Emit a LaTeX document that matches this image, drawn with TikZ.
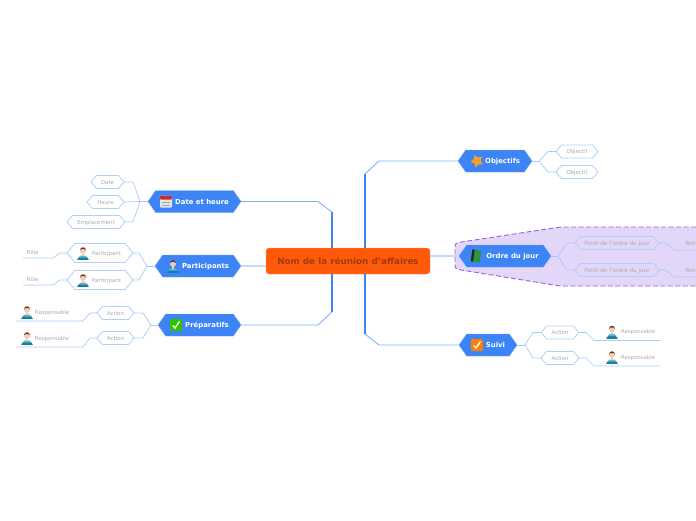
\documentclass[tikz,border=0pt]{standalone}
\usepackage{xcolor}
\usepackage{fontspec}
\setmainfont{DejaVu Sans}
\usepackage{tikz}
\usetikzlibrary{shapes.symbols, positioning, calc}

\definecolor{topicblue}{HTML}{3D85F7}
\definecolor{twigblue}{HTML}{A9C9FC}
\definecolor{hexedge}{HTML}{B2CEFD}
\definecolor{leafgrey}{HTML}{ABABAB}
\definecolor{rootorange}{HTML}{FF5A0A}
\definecolor{roottext}{HTML}{A63A0C}
\definecolor{hullfill}{HTML}{E3D7F9}
\definecolor{hulledge}{HTML}{9B5DE5}

\tikzset{
    person/.pic={
        \fill[HTML=1C7F9E] (-6,7) .. controls (-6,2) and (6,2) .. (6,7) -- cycle;
        \fill[HTML=55B6D6] (-4.5,4.5) .. controls (-3,1.5) and (3,1.5) .. (4.5,4.5) -- cycle;
        \fill[HTML=F3CDB0] (0,-2.2) circle (3);
        \fill[HTML=F3CDB0] (-1.3,0) rectangle (1.3,2.6);
        \fill[HTML=7A2A20] (-3,-2.6) .. controls (-3.2,-6.8) and (3.2,-6.8) .. (3,-2.6) -- (2,-3.8) -- (-2,-3.8) -- cycle;
    },
    calendar/.pic={
        \fill[HTML=E6E6E6, rounded corners=1pt] (-6,-6) rectangle (6,6);
        \fill[HTML=BD3030, rounded corners=1pt] (-6,-6) rectangle (6,-2);
        \draw[white!65!black, line width=.4pt] (-4,0.5) -- (4,0.5) (-4,3.2) -- (4,3.2);
    },
    starmark/.pic={
        \fill[HTML=F5A02A, rotate=-12, rounded corners=.6pt] (90:6.8) -- (126:3.6) -- (162:6.8) -- (198:3.6) -- (234:6.8) -- (270:3.6) -- (306:6.8) -- (342:3.6) -- (18:6.8) -- (54:3.6) -- cycle;
    },
    bookmark/.pic={
        \fill[HTML=2F9440, rotate=-8] (-4.5,-6) rectangle (4.5,6);
        \fill[black!85, rotate=-8] (-4.5,-6) rectangle (-2.2,6);
    },
    checkbox/.pic={
        \fill[#1, rounded corners=1.5pt] (-6,-6) rectangle (6,6);
        \draw[white, line width=1.4pt] (-3.2,0.5) -- (-1,3) -- (3.5,-3.5);
    },
    HTML/.code={\definecolor{iconfill}{HTML}{#1}\tikzset{fill=iconfill}}
}

\begin{document}
\begin{tikzpicture}[
    x=1pt, y=-1pt,
    node distance=24pt,
    rootbox/.style={rectangle, draw=rootorange!60!white, fill=rootorange, rounded corners=3pt, minimum width=164pt, minimum height=26pt, inner sep=0pt, outer sep=0pt, text=roottext, font=\fontsize{8.8}{10}\selectfont\bfseries},
    topic/.style={signal, signal to=east and west, signal pointer angle=110, draw=topicblue!75!white, fill=topicblue, minimum height=22pt, inner sep=0pt, outer sep=0pt, text=white, text height=6.4pt, text depth=1.2pt, font=\fontsize{6.9}{8}\selectfont\bfseries, execute at begin node=\hspace*{15pt}},
    hexleaf/.style={signal, signal to=east and west, signal pointer angle=100, draw=hexedge, thick, fill=white, minimum height=13pt, inner sep=0pt, outer sep=0pt, text=leafgrey, text height=5.2pt, text depth=1pt, font=\fontsize{5.4}{6}\selectfont},
    hexclear/.style={hexleaf, fill=hullfill, font=\fontsize{5.7}{7}\selectfont},
    hexwho/.style={hexleaf, minimum height=19pt, execute at begin node=\hspace*{13pt}},
    lineleaf/.style={rectangle, inner sep=0pt, outer sep=0pt, minimum height=16pt, align=left, text=leafgrey, font=\fontsize{5.4}{6}\selectfont},
    trunk/.style={draw=topicblue, line width=1.8pt},
    branch/.style={draw=topicblue!65!white, line width=.9pt},
    stem/.style={draw=twigblue!70!white, line width=1.4pt},
    twig/.style={draw=twigblue, line width=.7pt}
]
    \useasboundingbox (0,0) rectangle (696,520);

    % Boundary round the agenda
    \draw[hulledge, fill=hullfill, dash pattern=on 5pt off 2.5pt, line width=.9pt, rounded corners=3pt] (696,227) -- (560,227) -- (455,243) -- (455,269) -- (560,286) -- (696,286);

    % Central topic
    \node (root) [rootbox] at (348,261) {Nom de la réunion d'affaires};

    % Left topics
    \node (date) [topic, minimum width=93pt, left=25pt of root, yshift=59.5pt] {Date et heure};
    \node (part) [topic, minimum width=86pt, left=25pt of root, yshift=-5pt] {Participants};
    \node (prep) [topic, minimum width=83pt, left=25pt of root, yshift=-64pt] {Préparatifs};

    % Right topics
    \node (obj) [topic, minimum width=74pt, right=28pt of root, yshift=100pt] {Objectifs};
    \node (agenda) [topic, minimum width=92pt, right=29pt of root, yshift=5pt] {Ordre du jour};
    \node (follow) [topic, minimum width=58pt, right=29pt of root, yshift=-84pt] {Suivi};

    % Date et heure
    \node (day) [hexleaf, minimum width=33pt, left=of date, yshift=19.5pt] {Date};
    \node (hour) [hexleaf, minimum width=37pt, left=of date, yshift=-0.5pt] {Heure};
    \node (place) [hexleaf, minimum width=58pt, left=23pt of date, yshift=-20.5pt] {Emplacement};

    % Participants
    \node (who1) [hexwho, minimum width=66pt, left=22pt of part, yshift=13pt] {Participant};
    \node (who2) [hexwho, minimum width=66pt, left=22pt of part, yshift=-14pt] {Participant};
    \node (role1) [lineleaf, text width=30pt, minimum height=12pt, left=14pt of who1, yshift=1pt] {\hspace*{4pt}Rôle};
    \node (role2) [lineleaf, text width=30pt, minimum height=12pt, left=14pt of who2, yshift=1pt] {\hspace*{4pt}Rôle};

    % Préparatifs
    \node (todo1) [hexleaf, minimum width=37pt, left=of prep, yshift=12pt] {Action};
    \node (todo2) [hexleaf, minimum width=37pt, left=of prep, yshift=-13pt] {Action};
    \node (owner1) [lineleaf, text width=67pt, left=14pt of todo1] {\hspace*{19pt}\raisebox{-1pt}{Responsable}};
    \node (owner2) [lineleaf, text width=67pt, left=14pt of todo2, yshift=-1pt] {\hspace*{19pt}\raisebox{-1pt}{Responsable}};

    % Objectifs
    \node (goal1) [hexleaf, minimum width=42pt, right=of obj, yshift=9.5pt] {Objectif};
    \node (goal2) [hexleaf, minimum width=42pt, right=of obj, yshift=-11pt] {Objectif};

    % Ordre du jour
    \node (item1) [hexclear, minimum width=84pt, right=of agenda, yshift=13pt] {Point de l'ordre du jour};
    \node (item2) [hexclear, minimum width=84pt, right=of agenda, yshift=-14pt] {Point de l'ordre du jour};
    \node (time1) [lineleaf, text width=22pt, minimum height=12pt, right=15pt of item1, yshift=-1pt] {\hspace*{11pt}Tem};
    \node (time2) [lineleaf, text width=22pt, minimum height=12pt, right=15pt of item2, yshift=-1pt] {\hspace*{11pt}Tem};

    % Suivi
    \node (next1) [hexleaf, minimum width=38pt, right=of follow, yshift=12.5pt] {Action};
    \node (next2) [hexleaf, minimum width=38pt, right=of follow, yshift=-13pt] {Action};
    \node (owner3) [lineleaf, text width=66pt, right=15pt of next1] {\hspace*{27pt}\raisebox{-1pt}{Responsable}};
    \node (owner4) [lineleaf, text width=66pt, right=15pt of next2] {\hspace*{27pt}\raisebox{-1pt}{Responsable}};

    % Icons
    \pic at ($(date.west)+(18,0)$) {calendar};
    \pic at ($(part.west)+(18,0)$) {person};
    \pic at ($(prep.west)+(18,0)$) {checkbox={green!70!black!80!yellow}};
    \pic at ($(obj.west)+(19,0)$) {starmark};
    \pic at ($(agenda.west)+(17,0)$) {bookmark};
    \pic at ($(follow.west)+(18,0)$) {checkbox={orange}};
    \pic at ($(who1.west)+(16,0)$) {person};
    \pic at ($(who2.west)+(16,0)$) {person};
    \pic at ($(owner1.west)+(11,-1)$) {person};
    \pic at ($(owner2.west)+(11,-1)$) {person};
    \pic at ($(owner3.west)+(18,-1)$) {person};
    \pic at ($(owner4.west)+(18,-1)$) {person};

    % Main branches
    \draw[trunk] ($(root.north)+(-16,0)$) -- ++(0,-36) coordinate (ltop);
    \draw[trunk] ($(root.south)+(-16,0)$) -- ++(0,38) coordinate (lbot);
    \draw[trunk] ($(root.north)+(17,0)$) -- ++(0,-74) coordinate (rtop);
    \draw[trunk] ($(root.south)+(17,0)$) -- ++(0,60) coordinate (rbot);
    \draw[branch] (ltop) -- ($(date.east)+(77,0)$) -- (date.east);
    \draw[branch] (lbot) -- ($(prep.east)+(77,0)$) -- (prep.east);
    \draw[branch] (rtop) -- ($(obj.west)+(-79,0)$) -- (obj.west);
    \draw[branch] (rbot) -- ($(follow.west)+(-80,0)$) -- (follow.west);
    \draw[stem] (root.west |- part.east) -- (part.east);
    \draw[stem] (root.east |- agenda.west) -- (agenda.west);

    % Twigs
    \draw[twig] (date.west) -- ++(-8,0) coordinate (datehub);
    \draw[twig] (day.east) -- ++(9,0) -- (datehub);
    \draw[twig] (hour.east) -- (datehub);
    \draw[twig] (place.east) -- ++(8,0) -- (datehub);

    \draw[twig] (part.west) -- ++(-8,0) coordinate (parthub);
    \draw[twig] (who1.east) -- ++(6,0) -- (parthub);
    \draw[twig] (who2.east) -- ++(6,0) -- (parthub);
    \draw[twig] (who1.west) -- ++(-7,0) -- (role1.south east) -- (role1.south west);
    \draw[twig] (who2.west) -- ++(-7,0) -- (role2.south east) -- (role2.south west);

    \draw[twig] (prep.west) -- ++(-7,0) coordinate (prephub);
    \draw[twig] (todo1.east) -- ++(9,0) -- (prephub);
    \draw[twig] (todo2.east) -- ++(9,0) -- (prephub);
    \draw[twig] (todo1.west) -- ++(-7,0) -- (owner1.south east) -- (owner1.south west);
    \draw[twig] (todo2.west) -- ++(-7,0) -- (owner2.south east) -- (owner2.south west);

    \draw[twig] (obj.east) -- ++(7,0) coordinate (objhub);
    \draw[twig] (goal1.west) -- ++(-8,0) -- (objhub);
    \draw[twig] (goal2.west) -- ++(-8,0) -- (objhub);

    \draw[twig] (agenda.east) -- ++(7,0) coordinate (agendahub);
    \draw[twig] (item1.west) -- ++(-8,0) -- (agendahub);
    \draw[twig] (item2.west) -- ++(-8,0) -- (agendahub);
    \draw[twig] (item1.east) -- ++(7,0) -- (time1.south west) -- (time1.south east);
    \draw[twig] (item2.east) -- ++(7,0) -- (time2.south west) -- (time2.south east);

    \draw[twig] (follow.east) -- ++(8,0) coordinate (followhub);
    \draw[twig] (next1.west) -- ++(-8,0) -- (followhub);
    \draw[twig] (next2.west) -- ++(-8,0) -- (followhub);
    \draw[twig] (next1.east) -- ++(7,0) -- (owner3.south west) -- (owner3.south east);
    \draw[twig] (next2.east) -- ++(7,0) -- (owner4.south west) -- (owner4.south east);
\end{tikzpicture}
\end{document}
